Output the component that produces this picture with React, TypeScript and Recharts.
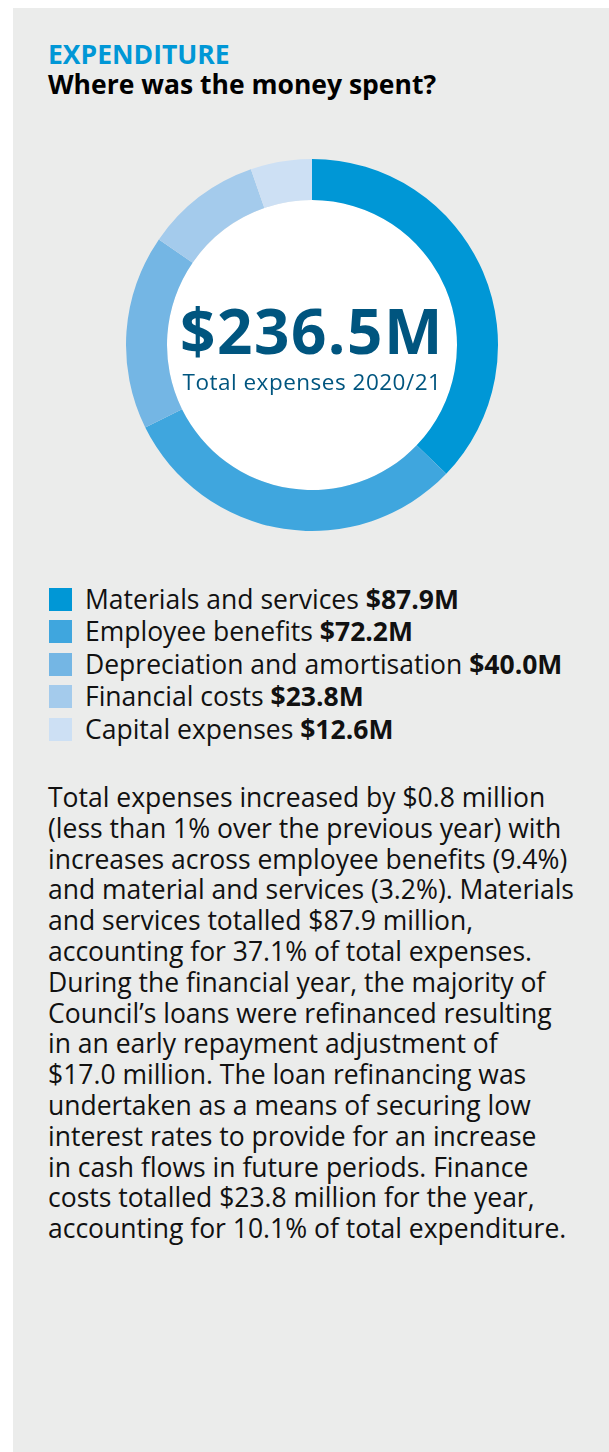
import { PieChart, Pie, Cell } from "recharts"

const categories = [
  "Materials and services",
  "Employee benefits",
  "Depreciation and amortisation",
  "Financial costs",
  "Capital expenses",
]
const values = [87.9, 72.2, 40.0, 23.8, 12.6]
const colors = ["#0097d6", "#3fa6de", "#74b6e4", "#a4cbec", "#cde0f4"]

const totalLabel = "$236.5M"
const totalCaption = "Total expenses 2020/21"

const bodyLines = [
  "Total expenses increased by $0.8 million",
  "(less than 1% over the previous year) with",
  "increases across employee benefits (9.4%)",
  "and material and services (3.2%). Materials",
  "and services totalled $87.9 million,",
  "accounting for 37.1% of total expenses.",
  "During the financial year, the majority of",
  "Council\u2019s loans were refinanced resulting",
  "in an early repayment adjustment of",
  "$17.0 million. The loan refinancing was",
  "undertaken as a means of securing low",
  "interest rates to provide for an increase",
  "in cash flows in future periods. Finance",
  "costs totalled $23.8 million for the year,",
  "accounting for 10.1% of total expenditure.",
]

const data = categories.map((name, i) => ({ name, value: values[i] }))

const FONT = "'Open Sans', sans-serif"
const FS = 26.5

export default function App() {
  return (
    <div
      style={{
        position: "fixed",
        left: 13,
        top: 8,
        width: 596,
        height: 1444,
        background: "#ebeceb",
        fontFamily: FONT,
        color: "#111",
      }}
    >
      <div style={{ position: "absolute", left: 35, top: 31, fontSize: FS, lineHeight: "31px", fontWeight: 700, color: "#0097d6" }}>
        EXPENDITURE
      </div>
      <div style={{ position: "absolute", left: 35, top: 61, fontSize: FS, lineHeight: "31px", fontWeight: 700, color: "#000" }}>
        Where was the money spent?
      </div>

      <div style={{ position: "absolute", left: 0, top: 0 }}>
        <PieChart width={596} height={540} margin={{ top: 0, right: 0, bottom: 0, left: 0 }}>
          <Pie
            data={[{ value: 1 }]}
            dataKey="value"
            cx={299}
            cy={337}
            innerRadius={0}
            outerRadius={145}
            fill="#ffffff"
            stroke="none"
            isAnimationActive={false}
          />
          <Pie
            data={data}
            dataKey="value"
            cx={299}
            cy={337}
            innerRadius={145}
            outerRadius={186}
            startAngle={90}
            endAngle={-270}
            stroke="none"
            isAnimationActive={false}
          >
            {data.map((d, i) => (
              <Cell key={d.name} fill={colors[i]} />
            ))}
          </Pie>
        </PieChart>
      </div>

      <div style={{ position: "absolute", left: 0, width: 598, top: 291, textAlign: "center", fontSize: 62, lineHeight: "62px", fontWeight: 700, color: "#00557f", letterSpacing: 1.5, whiteSpace: "nowrap" }}>
        {totalLabel}
      </div>
      <div style={{ position: "absolute", left: 0, width: 598, top: 363, textAlign: "center", fontSize: 22.5, lineHeight: "22.5px", color: "#00557f", letterSpacing: 0.5, whiteSpace: "nowrap" }}>
        {totalCaption}
      </div>

      <div style={{ position: "absolute", left: 36, top: 575 }}>
        {categories.map((c, i) => (
          <div key={c} style={{ display: "flex", alignItems: "center", height: 32.5, whiteSpace: "nowrap" }}>
            <div style={{ width: 23, height: 23, background: colors[i], marginRight: 13 }} />
            <span style={{ fontSize: FS, lineHeight: "31px" }}>
              {c} <b>${values[i].toFixed(1)}M</b>
            </span>
          </div>
        ))}
      </div>

      <div style={{ position: "absolute", left: 35, top: 774, fontSize: FS, lineHeight: "30.8px" }}>
        {bodyLines.map((l, i) => (
          <div key={i} style={{ whiteSpace: "nowrap" }}>{l}</div>
        ))}
      </div>
    </div>
  )
}
